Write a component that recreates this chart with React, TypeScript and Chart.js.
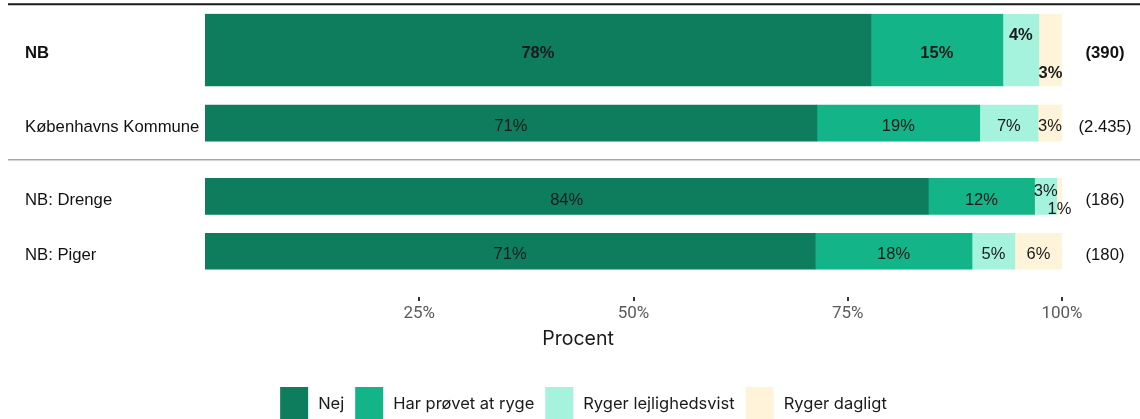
import React, { useEffect, useRef } from 'react';
import { Chart, registerables } from 'chart.js';

Chart.register(...registerables);

// ---- data ----
const categories = ['NB', 'Københavns Kommune', 'NB: Drenge', 'NB: Piger'];
const counts = ['(390)', '(2.435)', '(186)', '(180)'];
const seriesNames = ['Nej', 'Har prøvet at ryge', 'Ryger lejlighedsvist', 'Ryger dagligt'];
const nej = [77.7, 71.4, 84.4, 71.2];
const harProvet = [15.4, 19.0, 12.4, 18.3];
const lejlighedsvist = [4.2, 6.8, 2.6, 5.0];
const dagligt = [2.7, 2.8, 0.6, 5.5];
const xTicks = [25, 50, 75, 100];
const xTitle = 'Procent';

// ---- layout / style ----
const rowPos = [0, 4, 8, 11];
const highlightRow = 0;
const colors = ['#0E7D5E', '#13B487', '#A5F3DC', '#FFF3D9'];
const series = [nej, harProvet, lejlighedsvist, dagligt];

const LABEL_FONT = '"Liberation Sans", Arial, sans-serif';
const UI_FONT = 'Inter, Lato, sans-serif';

function buildDatasets() {
  const out: any[] = [];
  [true, false].forEach((thick) => {
    series.forEach((vals, si) => {
      const rows = categories.map((_, r) => r).filter((r) => (r === highlightRow) === thick);
      out.push({
        label: seriesNames[si],
        data: rows.map((r) => ({ x: vals[r], y: rowPos[r] })),
        rows,
        seriesIndex: si,
        backgroundColor: colors[si],
        borderWidth: 0,
        barThickness: thick ? 72 : 36,
      });
    });
  });
  return out;
}

const overlayPlugin = {
  id: 'overlay',
  afterDatasetsDraw(chart: any) {
    const { ctx } = chart;
    ctx.save();
    chart.data.datasets.forEach((ds: any, di: number) => {
      const meta = chart.getDatasetMeta(di);
      meta.data.forEach((el: any, i: number) => {
        const r = ds.rows[i];
        const v = series[ds.seriesIndex][r];
        const { x, base, y, height } = el.getProps(['x', 'base', 'y', 'height'], true);
        const bold = r === highlightRow;
        ctx.font = `${bold ? 'bold ' : ''}16.5px ${LABEL_FONT}`;
        ctx.fillStyle = '#1a1a1a';
        ctx.textAlign = 'center';
        ctx.textBaseline = 'alphabetic';
        let dy = 0;
        const tight = lejlighedsvist[r] < 5 && dagligt[r] < 5;
        if (tight && ds.seriesIndex === 2) dy = -0.25 * Math.abs(height);
        if (tight && ds.seriesIndex === 3) dy = 0.27 * Math.abs(height);
        ctx.fillText(`${Math.round(v)}%`, (x + base) / 2, y + dy + 8.2);
      });
    });
    ctx.restore();
  },
  afterDraw(chart: any) {
    const { ctx } = chart;
    const yScale = chart.scales.y;
    const W = chart.width;
    ctx.save();
    // top rule
    const yTop = yScale.getPixelForValue(-2.5);
    ctx.strokeStyle = '#1a1a1a';
    ctx.lineWidth = 2;
    ctx.beginPath();
    ctx.moveTo(8, yTop);
    ctx.lineTo(W, yTop);
    ctx.stroke();
    // separator
    const ySep = yScale.getPixelForValue(6);
    ctx.strokeStyle = '#a9a9a9';
    ctx.lineWidth = 1.5;
    ctx.beginPath();
    ctx.moveTo(8, ySep);
    ctx.lineTo(W, ySep);
    ctx.stroke();
    // row labels and counts
    categories.forEach((c, r) => {
      const py = yScale.getPixelForValue(rowPos[r]);
      const bold = r === highlightRow;
      ctx.font = `${bold ? 'bold ' : ''}16.7px ${LABEL_FONT}`;
      ctx.fillStyle = '#111';
      ctx.textBaseline = 'alphabetic';
      ctx.textAlign = 'left';
      ctx.fillText(c, 25, py + 8.5);
      ctx.textAlign = 'center';
      ctx.fillText(counts[r], 1105, py + 8.5);
    });
    // axis title
    ctx.font = `19.5px ${UI_FONT}`;
    ctx.fillStyle = '#1a1a1a';
    ctx.textAlign = 'center';
    ctx.fillText(xTitle, 578, 345);
    // legend
    ctx.font = `16.5px ${UI_FONT}`;
    const boxW = 28;
    const gapBox = 10;
    const gapItem = 11;
    const widths = seriesNames.map((n) => ctx.measureText(n).width);
    const total = widths.reduce((a, w) => a + boxW + gapBox + w, 0) + gapItem * (seriesNames.length - 1);
    let lx = 583.5 - total / 2;
    seriesNames.forEach((n, i) => {
      ctx.fillStyle = colors[i];
      ctx.fillRect(lx, 387, boxW, 36);
      ctx.fillStyle = '#1a1a1a';
      ctx.textAlign = 'left';
      ctx.fillText(n, lx + boxW + gapBox, 409);
      lx += boxW + gapBox + widths[i] + gapItem;
    });
    ctx.restore();
  },
};

export default function App() {
  const ref = useRef<HTMLCanvasElement>(null);
  useEffect(() => {
    document.body.style.margin = '0';
    const chart = new Chart(ref.current as HTMLCanvasElement, {
      type: 'bar',
      data: { datasets: buildDatasets() },
      options: {
        indexAxis: 'y',
        animation: false,
        responsive: false,
        devicePixelRatio: 1,
        layout: { padding: { left: 205, right: 78, top: 13.4, bottom: 97 } },
        plugins: { legend: { display: false }, tooltip: { enabled: false } },
        scales: {
          y: {
            type: 'linear',
            display: false,
            reverse: true,
            offset: false,
            min: -2,
            max: 13.5,
            stacked: true,
            grid: { offset: false },
          },
          x: {
            type: 'linear',
            min: 0,
            max: 100,
            stacked: true,
            position: 'bottom',
            border: { display: false },
            grid: {
              display: true,
              drawOnChartArea: false,
              drawTicks: true,
              tickLength: 4,
              color: '#333',
              lineWidth: 2,
            },
            ticks: {
              padding: 3,
              color: '#5a5a5a',
              font: { family: 'Roboto', size: 17 },
              callback: (v: any) => `${v}%`,
            },
            afterBuildTicks: (s: any) => {
              s.ticks = xTicks.map((v) => ({ value: v }));
            },
            afterFit: (s: any) => {
              s.height = 25;
            },
          } as any,
        },
      } as any,
      plugins: [overlayPlugin],
    });
    return () => chart.destroy();
  }, []);
  return (
    <div style={{ width: 1140, height: 419 }}>
      <canvas ref={ref} width={1140} height={419} style={{ display: 'block' }} />
    </div>
  );
}
